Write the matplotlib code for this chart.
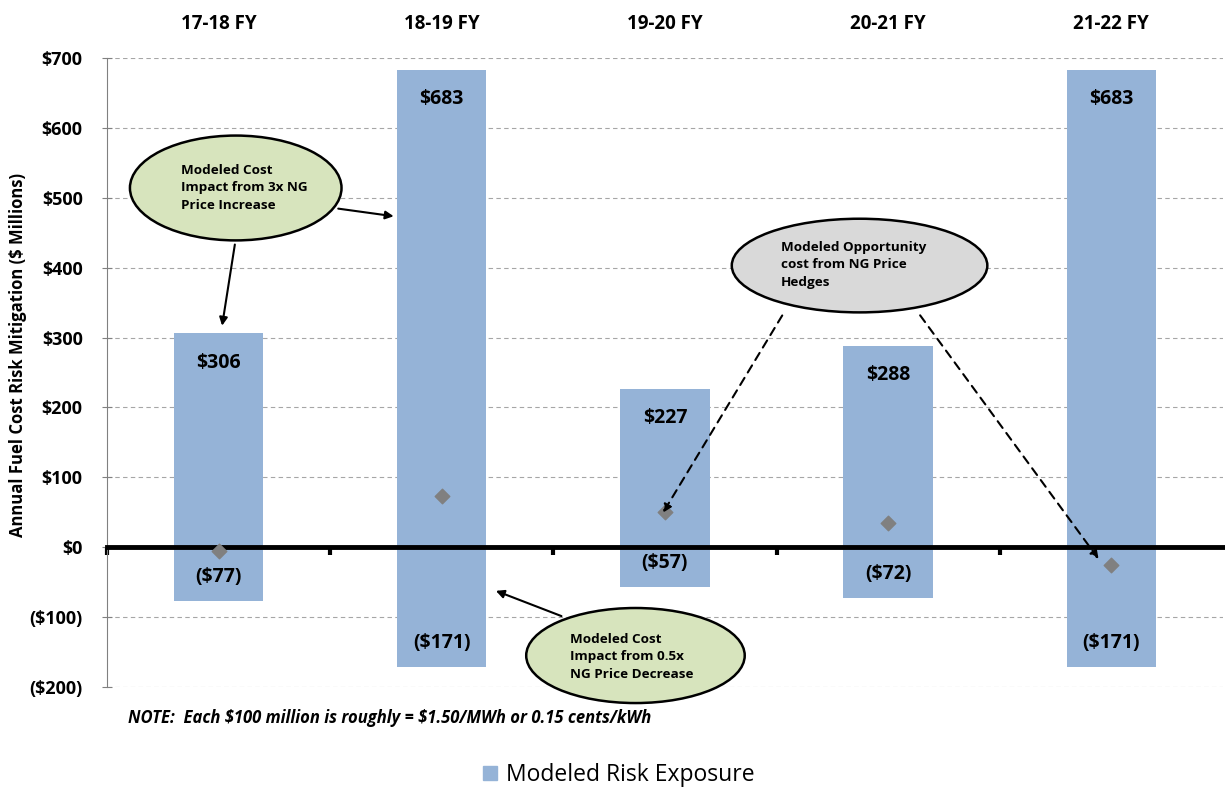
import numpy as np
import matplotlib
matplotlib.use('Agg')
import matplotlib.pyplot as plt
from matplotlib.patches import Ellipse, Patch
from matplotlib import ticker

plt.rcParams['font.family'] = ['Open Sans', 'DejaVu Sans']

years = ['17-18 FY', '18-19 FY', '19-20 FY', '20-21 FY', '21-22 FY']
risk_high = [306, 683, 227, 288, 683]
risk_low = [-77, -171, -57, -72, -171]
hedge_cost = [-6, 73, 50, 34, -25]

bar_col = '#95b3d7'
x = np.arange(len(years))

fig = plt.figure(figsize=(12.25, 7.89), dpi=100)
ax = fig.add_axes([0.0873, 0.1293, 0.911, 0.7972])

ax.bar(x, np.array(risk_high) - np.array(risk_low), bottom=risk_low, width=0.4,
       color=bar_col, zorder=2)
ax.scatter(x, hedge_cost, marker='D', s=55, color='#808080', zorder=4)

for i in range(len(years)):
    ax.annotate('$%d' % risk_high[i], (x[i], risk_high[i]), xytext=(0, -21),
                textcoords='offset points', ha='center', va='center',
                fontsize=14, fontweight='bold', zorder=5)
    ax.annotate('($%d)' % -risk_low[i], (x[i], risk_low[i]), xytext=(0, 17),
                textcoords='offset points', ha='center', va='center',
                fontsize=14, fontweight='bold', zorder=5)

ax.set_xlim(-0.5, 4.5)
ax.set_ylim(-200, 700)
ax.set_yticks(np.arange(-200, 701, 100))
ax.yaxis.set_major_formatter(ticker.FuncFormatter(
    lambda v, p: '$%d' % v if v >= 0 else '($%d)' % -v))
ax.tick_params(axis='y', direction='inout', length=7, color='#808080',
               labelsize=13, pad=14)
for lab in ax.get_yticklabels():
    lab.set_fontweight('bold')
ax.grid(axis='y', linestyle=(0, (4, 3)), color='#a6a6a6', linewidth=0.8, zorder=0)

for s in ['top', 'right']:
    ax.spines[s].set_visible(False)
ax.spines['left'].set_color('#808080')
ax.spines['bottom'].set_position(('data', 0))
ax.spines['bottom'].set_linewidth(3.5)
ax.spines['bottom'].set_zorder(3)
ax.set_xticks(np.arange(-0.5, 4.5, 1))
ax.tick_params(axis='x', direction='out', length=6, width=3, labelbottom=False)

top = ax.secondary_xaxis('top')
top.set_xticks(x)
top.set_xticklabels(years, fontsize=13.5, fontweight='bold')
top.tick_params(length=0, pad=17)
top.spines['top'].set_visible(False)

ax.set_ylabel('Annual Fuel Cost Risk Mitigation ($ Millions)', fontsize=12,
              fontweight='bold')
ax.yaxis.set_label_coords(-0.072, 0.528)

# callout ellipses
txt = dict(fontsize=9.7, fontweight='bold', ha='left', va='center',
           linespacing=1.45, zorder=7)
arr = dict(arrowstyle='-|>', color='black', lw=1.5, mutation_scale=12)

ax.add_patch(Ellipse((0.077, 514), 0.948, 150, facecolor='#d7e4bd',
                     edgecolor='black', lw=1.8, zorder=6))
ax.text(-0.17, 514, 'Modeled Cost\nImpact from 3x NG\nPrice Increase', **txt)
ax.annotate('', xy=(0.014, 313), xytext=(0.075, 437), arrowprops=arr, zorder=6)
ax.annotate('', xy=(0.797, 473), xytext=(0.524, 485), arrowprops=arr, zorder=6)

ax.add_patch(Ellipse((2.872, 403), 1.145, 134, facecolor='#d9d9d9',
                     edgecolor='black', lw=1.8, zorder=6))
ax.text(2.52, 404, 'Modeled Opportunity\ncost from NG Price\nHedges', **txt)
darr = dict(arrowstyle='-|>', color='black', lw=1.5, mutation_scale=12,
            linestyle=(0, (4, 3)))
ax.annotate('', xy=(1.985, 46), xytext=(2.532, 335), arrowprops=darr, zorder=6)
ax.annotate('', xy=(3.95, -20), xytext=(3.136, 335), arrowprops=darr, zorder=6)

ax.add_patch(Ellipse((1.868, -155), 0.979, 136, facecolor='#d7e4bd',
                     edgecolor='black', lw=1.8, zorder=6, clip_on=False))
ax.text(1.575, -157, 'Modeled Cost\nImpact from 0.5x\nNG Price Decrease', **txt)
ax.annotate('', xy=(1.231, -61), xytext=(1.548, -100), arrowprops=arr, zorder=6)

fig.text(128 / 1225, 1 - 718 / 789,
         r'NOTE:  Each \$100 million is roughly = \$1.50/MWh or 0.15 cents/kWh',
         fontsize=12, fontweight='bold', style='italic', va='center')

fig.legend(handles=[Patch(color=bar_col, label='Modeled Risk Exposure')],
           loc='center', bbox_to_anchor=(0.505, 1 - 775 / 789), frameon=False,
           fontsize=16.5, handlelength=0.6, handleheight=0.6, handletextpad=0.4)

fig.savefig('out.png', dpi=100)
